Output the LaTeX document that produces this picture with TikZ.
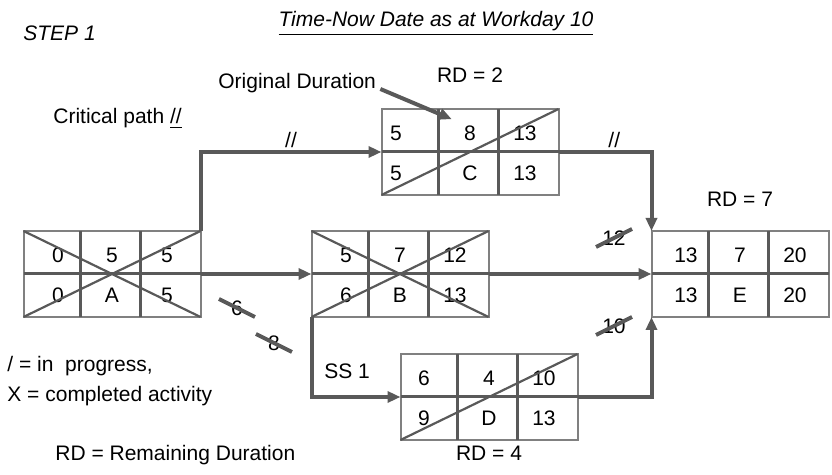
\documentclass[tikz,border=0pt]{standalone}
\usepackage{fontspec}
\setmainfont{Liberation Sans}
\usetikzlibrary{arrows.meta}
\definecolor{linkgray}{gray}{0.35}
\definecolor{boxgray}{gray}{0.5}
\tikzset{
  actbox/.style={draw=boxgray,line width=1pt,minimum width=88.5pt,minimum height=43pt,inner sep=0pt,outer sep=0pt},
  divider/.style={draw=linkgray,line width=1.5pt},
  diag/.style={draw=linkgray,line width=1.1pt},
  cell/.style={inner sep=0pt},
  txt/.style={inner sep=0pt,anchor=base west},
  link/.style={draw=linkgray,line width=2pt,-{Triangle[length=6.5pt,width=5.5pt]}},
  strike/.style={draw=linkgray,line width=2pt},
}
\newcommand{\padES}{54}
\newcommand{\activity}[9]{%
  \node[actbox] (#1) at (#2,#3) {};
  \draw[divider] (#2-31.5,#3-43) -- ++(0,86);
  \draw[divider] (#2+28.5,#3-43) -- ++(0,86);
  \draw[divider] (#1.west) -- (#1.east);
  \node[cell] (#1es) at (#2-\padES,#3-19) {#4};
  \node[cell] (#1dur) at (#2,#3-19) {#5};
  \node[cell] (#1ef) at (#2+55,#3-19) {#6};
  \node[cell] (#1ls) at (#2-\padES,#3+21) {#7};
  \node[cell] (#1id) at (#2,#3+21) {#8};
  \node[cell] (#1lf) at (#2+55,#3+21) {#9};
}

\begin{document}
\begin{tikzpicture}[x=0.5pt,y=-0.5pt,font=\fontsize{10.5}{12}\selectfont]
  \useasboundingbox (0,0) rectangle (832,475);
  \activity{A}{112}{274}{0}{5}{5}{0}{A}{5}
  \activity{B}{400}{274}{5}{7}{12}{6}{B}{13}
  \renewcommand{\padES}{74}
  \activity{C}{470}{152}{5}{8}{13}{5}{C}{13}
  \renewcommand{\padES}{65}
  \activity{D}{489}{397}{6}{4}{10}{9}{D}{13}
  \renewcommand{\padES}{54}
  \activity{E}{740}{274}{13}{7}{20}{13}{E}{20}
  \draw[diag] (A.north west) -- (A.south east);
  \draw[diag] (A.south west) -- (A.north east);
  \draw[diag] (B.north west) -- (B.south east);
  \draw[diag] (B.south west) -- (B.north east);
  \draw[diag] (C.south west) -- (C.north east);
  \draw[diag] (D.south west) -- (D.north east);

  \node[txt] (step) at (23,41) {\itshape STEP 1};
  \node[txt,anchor=base] (title) at (436,27) {\itshape\underline{Time-Now Date as at Workday 10}};
  \node[txt] (orig) at (218,89) {Original Duration};
  \node[txt,anchor=base] (rdC) at (470,83) {RD = 2};
  \node[txt] (crit) at (53,124) {Critical path \underline{//}};
  \node[txt,anchor=base] (rdE) at (740,207) {RD = 7};
  \node[txt] (legend1) at (7,372) {/ = in\ \ progress,};
  \node[txt] (legend2) at (7,402) {X = completed activity};
  \node[txt] (legend3) at (55,461) {RD = Remaining Duration};
  \node[txt,anchor=base] (rdD) at (489,461) {RD = 4};

  \draw[link] (A.east) -- (B.west);
  \draw[link] (A.north east) |- (C.west) node[pos=.75,above,inner sep=1pt] (crA) {//};
  \draw[link] (C.east) -| (E.north west) node[pos=.3,above,inner sep=1pt] (crC) {//};
  \draw[link] (B.east) -- (E.west);
  \draw[link] (B.south west) |- (D.west) node[pos=.7,above=5pt] (ss) {SS 1};
  \draw[link] (D.east) -| (E.south west);
  \draw[link] ([xshift=2pt]orig.base east) -- ([xshift=-6pt,yshift=3pt]Cdur.north west);

  \node[cell] (was12) at (614,238) {12};
  \node[cell] (was10) at (614,326) {10};
  \node[cell] (was6) at (237,308) {6};
  \node[cell] (was8) at (274,343) {8};
  \draw[strike] (was12.center) ++(-18,9) -- ++(36,-18);
  \draw[strike] (was10.center) ++(-18,9) -- ++(36,-18);
  \draw[strike] (was6.center) ++(-18,-9) -- ++(36,18);
  \draw[strike] (was8.center) ++(-18,-9) -- ++(36,18);
\end{tikzpicture}
\end{document}
